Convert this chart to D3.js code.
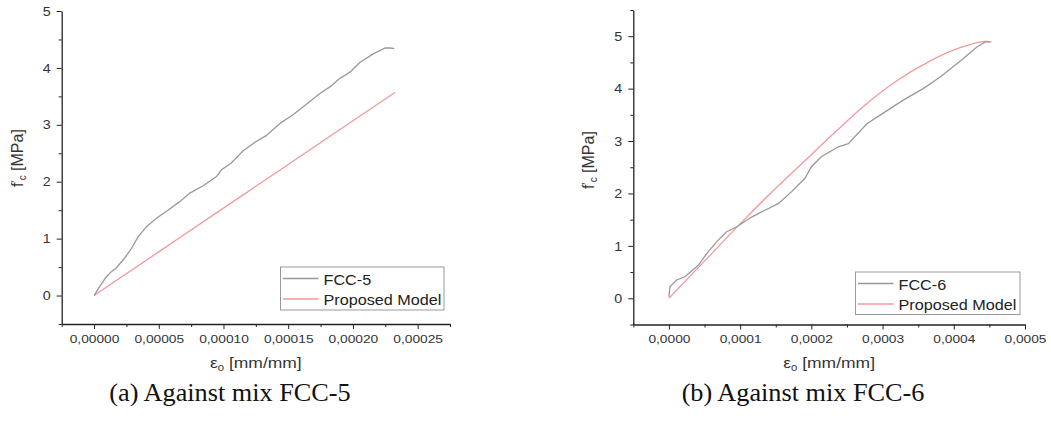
<!DOCTYPE html>
<html>
<head>
<meta charset="utf-8">
<script src="https://cdn.jsdelivr.net/npm/d3@7"></script>
<style>
  html, body { margin: 0; padding: 0; background: #fff; }
  svg { display: block; }
</style>
</head>
<body>
<svg id="chart" width="1051" height="423"></svg>
<script>
// ---------- DATA ----------
// (a) FCC-5
const fcc5Strain = [0, 0.0000044, 0.0000095, 0.0000134, 0.0000173, 0.0000237, 0.0000289, 0.000034, 0.0000405, 0.0000482, 0.000056, 0.0000662, 0.000074, 0.0000843, 0.0000946, 0.0000985, 0.000106, 0.000115, 0.000124, 0.000133, 0.000144, 0.000154, 0.000164, 0.000174, 0.000183, 0.000189, 0.000198, 0.000205, 0.000216, 0.000225, 0.000229, 0.000232];
const fcc5Stress = [0, 0.16, 0.33, 0.42, 0.49, 0.66, 0.83, 1.03, 1.21, 1.36, 1.48, 1.65, 1.80, 1.93, 2.09, 2.21, 2.33, 2.54, 2.69, 2.81, 3.03, 3.18, 3.36, 3.54, 3.68, 3.80, 3.93, 4.09, 4.25, 4.35, 4.35, 4.34];
const model5Strain = [0, 0.00005, 0.0001, 0.00015, 0.0002, 0.0002325];
const model5Stress = [0, 0.768, 1.536, 2.303, 3.071, 3.57];

// (b) FCC-6
const fcc6Strain = [0, 0.0000014, 0.0000108, 0.0000225, 0.0000412, 0.0000552, 0.0000692, 0.000081, 0.000095, 0.000116, 0.000135, 0.000154, 0.000172, 0.000191, 0.0002, 0.000214, 0.000238, 0.000252, 0.000278, 0.000296, 0.000329, 0.000357, 0.000381, 0.000413, 0.000432, 0.000444, 0.000451];
const fcc6Stress = [0.03, 0.22, 0.35, 0.41, 0.63, 0.89, 1.11, 1.27, 1.36, 1.55, 1.68, 1.81, 2.03, 2.29, 2.51, 2.70, 2.89, 2.95, 3.33, 3.49, 3.78, 4.00, 4.22, 4.57, 4.79, 4.89, 4.89];
const model6Strain = [0, 0.00005, 0.0001, 0.00015, 0.0002, 0.000235, 0.000273, 0.00032, 0.000367, 0.000413, 0.000446, 0.000453];
const model6Stress = [0, 0.71, 1.42, 2.10, 2.74, 3.19, 3.66, 4.15, 4.53, 4.80, 4.90, 4.89];

// Ticks
const xTicksA = [0, 0.00005, 0.0001, 0.00015, 0.0002, 0.00025];
const xMinorA = [-0.000025, 0.000025, 0.000075, 0.000125, 0.000175, 0.000225, 0.000275];
const yTicksA = [0, 1, 2, 3, 4, 5];
const yMinorA = [-0.5, 0.5, 1.5, 2.5, 3.5, 4.5];
const xTicksB = [0, 0.0001, 0.0002, 0.0003, 0.0004, 0.0005];
const xMinorB = [-0.00005, 0.00005, 0.00015, 0.00025, 0.00035, 0.00045];
const yTicksB = [0, 1, 2, 3, 4, 5];
const yMinorB = [-0.5, 0.5, 1.5, 2.5, 3.5, 4.5, 5.5];

const seriesNames = ["FCC-5", "FCC-6", "Proposed Model"];
const captions = ["(a) Against mix FCC-5", "(b) Against mix FCC-6"];

// ---------- DRAW ----------
const svg = d3.select("#chart");
const locale = d3.formatLocale({decimal: ",", thousands: ".", grouping: [3], currency: ["", ""]});
const GRAY = "#999999", RED = "#f2999b", AXIS = "#222";
const SANS = "'Liberation Sans', Arial, sans-serif";
const SERIF = "'Liberation Serif', 'Times New Roman', serif";

function panel(cfg) {
  const g = svg.append("g");
  const x = d3.scaleLinear().domain(cfg.xDomain).range(cfg.xRange);
  const y = d3.scaleLinear().domain(cfg.yDomain).range(cfg.yRange);
  const x0 = cfg.xRange[0], yBottom = cfg.yRange[0];

  // minor ticks
  g.append("g").attr("transform", `translate(0,${yBottom})`)
    .call(d3.axisBottom(x).tickValues(cfg.xMinor).tickSize(3).tickFormat(""))
    .call(s => s.select(".domain").remove())
    .selectAll("line").attr("stroke", AXIS);
  g.append("g").attr("transform", `translate(${x0},0)`)
    .call(d3.axisLeft(y).tickValues(cfg.yMinor).tickSize(3).tickFormat(""))
    .call(s => s.select(".domain").remove())
    .selectAll("line").attr("stroke", AXIS);

  // major axes
  const xa = g.append("g").attr("transform", `translate(0,${yBottom})`)
    .call(d3.axisBottom(x).tickValues(cfg.xTicks).tickSize(5).tickSizeOuter(0).tickPadding(6)
      .tickFormat(locale.format(cfg.xFmt)));
  xa.select(".domain").attr("stroke", AXIS).attr("stroke-width", 1.3);
  xa.selectAll(".tick line").attr("stroke", AXIS);
  xa.selectAll("text").style("font-size", "11px").style("fill", "#333")
    .style("font-family", SANS)
    .attr("transform", "scale(1.25,1)");

  const ya = g.append("g").attr("transform", `translate(${x0},0)`)
    .call(d3.axisLeft(y).tickValues(cfg.yTicks).tickSize(5).tickSizeOuter(0).tickPadding(5)
      .tickFormat(d3.format("d")));
  ya.select(".domain").attr("stroke", AXIS).attr("stroke-width", 1.3);
  ya.selectAll(".tick line").attr("stroke", AXIS);
  ya.selectAll("text").style("font-size", "13px").style("fill", "#333")
    .style("font-family", SANS)
    .attr("transform", "scale(1.1,1)");

  // lines
  const lineLin = d3.line().x(d => x(d[0])).y(d => y(d[1]));
  const lineSm = d3.line().x(d => x(d[0])).y(d => y(d[1])).curve(d3.curveMonotoneX);
  g.append("path").datum(d3.zip(cfg.modelX, cfg.modelY))
    .attr("d", lineSm).attr("fill", "none").attr("stroke", RED).attr("stroke-width", 1.3);
  g.append("path").datum(d3.zip(cfg.expX, cfg.expY))
    .attr("d", lineLin).attr("fill", "none").attr("stroke", GRAY).attr("stroke-width", 1.3);

  // legend
  const L = cfg.legend;
  g.append("rect").attr("x", L.x).attr("y", L.y).attr("width", L.w).attr("height", L.h)
    .attr("fill", "#fff").attr("stroke", "#999").attr("stroke-width", 1);
  [[cfg.expName, GRAY], [seriesNames[2], RED]].forEach((it, i) => {
    const ly = L.y + 11.5 + i * 20.5;
    g.append("line").attr("x1", L.x + 2.5).attr("x2", L.x + 38).attr("y1", ly).attr("y2", ly)
      .attr("stroke", it[1]).attr("stroke-width", 1.3);
    g.append("text").attr("transform", `translate(${L.x + 43},${ly + 6}) scale(1.08,1)`)
      .style("font-size", "15px").style("font-family", SANS).style("fill", "#222").text(it[0]);
  });

  // x title
  const xt = g.append("text")
    .attr("transform", `translate(${(cfg.xRange[0] + cfg.xRange[1]) / 2},368) scale(1.25,1)`)
    .attr("text-anchor", "middle")
    .style("font-size", "14px").style("font-family", SANS).style("fill", "#333");
  xt.append("tspan").text("ε");
  xt.append("tspan").style("font-size", "9px").attr("dy", 3).text("0");
  xt.append("tspan").attr("dy", -3).text(" [mm/mm]");

  // y title
  const yt = g.append("text")
    .attr("transform", `translate(${cfg.yTitleX},${cfg.yTitleY}) rotate(-90)`)
    .attr("text-anchor", "middle")
    .style("font-size", "16px").style("font-family", SANS).style("fill", "#333");
  yt.append("tspan").text("f");
  yt.append("tspan").style("font-size", "11px").attr("dy", -4).text("′");
  yt.append("tspan").style("font-size", "10px").attr("dy", 7).text("c");
  yt.append("tspan").attr("dy", -3).text(" [MPa]");

  // caption
  svg.append("text")
    .attr("transform", `translate(${cfg.capX},401) scale(1.05,1)`)
    .attr("text-anchor", "middle")
    .style("font-family", SERIF)
    .style("font-size", "25px").style("fill", "#111").text(cfg.caption);
}

panel({
  xDomain: [-0.000025, 0.000275], xRange: [61.7, 450],
  yDomain: [-0.5, 5], yRange: [324, 11],
  xTicks: xTicksA, xMinor: xMinorA, yTicks: yTicksA, yMinor: yMinorA, xFmt: ".5f",
  expX: fcc5Strain, expY: fcc5Stress, modelX: model5Strain, modelY: model5Stress,
  expName: seriesNames[0],
  legend: {x: 280.5, y: 267, w: 163.5, h: 43},
  yTitleX: 23, yTitleY: 158, capX: 230, caption: captions[0]
});

panel({
  xDomain: [-0.00005, 0.0005], xRange: [633.3, 1025],
  yDomain: [-0.5, 5.5], yRange: [324.5, 10],
  xTicks: xTicksB, xMinor: xMinorB, yTicks: yTicksB, yMinor: yMinorB, xFmt: ".4f",
  expX: fcc6Strain, expY: fcc6Stress, modelX: model6Strain, modelY: model6Stress,
  expName: seriesNames[1],
  legend: {x: 855.5, y: 272, w: 164.5, h: 42.5},
  yTitleX: 594, yTitleY: 160, capX: 803, caption: captions[1]
});
</script>
</body>
</html>
